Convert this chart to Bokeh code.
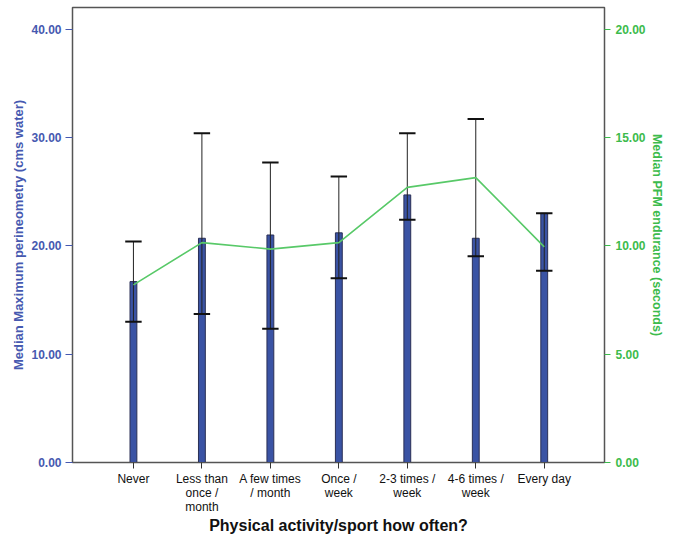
from bokeh.plotting import figure
from bokeh.models import Range1d, LinearAxis, FixedTicker, ColumnDataSource
from bokeh.embed import file_html
from bokeh.resources import INLINE

categories = ["Never", "Less than\nonce /\nmonth", "A few times\n/ month", "Once /\nweek",
              "2-3 times /\nweek", "4-6 times /\nweek", "Every day"]
perineometry = [16.7, 20.7, 21.0, 21.2, 24.7, 20.7, 23.0]
err_low = [13.0, 13.7, 12.35, 17.0, 22.4, 19.05, 17.7]
err_high = [20.4, 30.4, 27.7, 26.4, 30.4, 31.7, 23.0]
endurance = [8.2, 10.15, 9.85, 10.15, 12.7, 13.15, 9.95]
left_ticks = [0, 10, 20, 30, 40]
right_ticks = [0, 5, 10, 15, 20]

xs = list(range(len(categories)))
cap = 0.12
src = ColumnDataSource(dict(
    x=xs, top=perineometry, lo=err_low, hi=err_high,
    x0=[x - cap for x in xs], x1=[x + cap for x in xs],
))
src2 = ColumnDataSource(dict(x=xs, y=endurance))

BLUE = "#4659b0"
GREEN = "#3cbb4c"
FONT = "Liberation Sans"

p = figure(frame_width=532, frame_height=455, output_backend="svg", toolbar_location=None,
           x_range=Range1d(-0.89, 6.88), y_range=Range1d(0, 42.0),
           min_border_left=72, min_border_right=52, min_border_top=7, min_border_bottom=55)
p.extra_y_ranges = {"right": Range1d(0, 21.0)}
p.xgrid.visible = False
p.ygrid.visible = False
p.outline_line_color = "#555555"
p.outline_line_width = 1.5
p.background_fill_color = "white"
p.border_fill_color = "white"

p.vbar(x="x", top="top", bottom=0, width=0.1, source=src,
       fill_color="#3a53a4", line_color="#2a2f55", line_width=1)
p.segment(x0="x", x1="x", y0="lo", y1="hi", source=src, line_color="#222222", line_width=1)
p.segment(x0="x0", x1="x1", y0="hi", y1="hi", source=src, line_color="#111111", line_width=2)
p.segment(x0="x0", x1="x1", y0="lo", y1="lo", source=src, line_color="#111111", line_width=2)
p.line(x="x", y="y", source=src2, y_range_name="right", line_color="#58c968", line_width=1.6)

# x axis
xa = p.xaxis[0]
xa.ticker = FixedTicker(ticks=xs)
xa.major_label_overrides = {i: c for i, c in enumerate(categories)}
xa.major_label_text_font = FONT
xa.major_label_text_font_size = "12px"
xa.major_label_text_line_height = 1.0
xa.major_label_standoff = 3
xa.major_label_text_color = "#111111"
xa.major_tick_out = 6
xa.major_tick_in = 0
xa.minor_tick_line_color = None
xa.axis_line_color = "#555555"
xa.major_tick_line_color = "#333333"
xa.axis_label = "Physical activity/sport how often?"
xa.axis_label_text_font = FONT
xa.axis_label_text_font_style = "bold"
xa.axis_label_text_font_size = "16px"
xa.axis_label_text_color = "#111111"
xa.axis_label_standoff = 0

# left axis
ya = p.yaxis[0]
ya.ticker = FixedTicker(ticks=left_ticks)
ya.major_label_overrides = {t: f"{t:.2f}" for t in left_ticks}
ya.major_label_text_font = FONT
ya.major_label_text_font_style = "bold"
ya.major_label_text_font_size = "12px"
ya.major_label_text_color = BLUE
ya.major_label_standoff = 4
ya.major_tick_line_color = BLUE
ya.major_tick_out = 7
ya.major_tick_in = 0
ya.minor_tick_line_color = None
ya.axis_line_color = "#555555"
ya.axis_label = "Median Maximum perineometry (cms water)"
ya.axis_label_text_font = FONT
ya.axis_label_text_font_style = "bold"
ya.axis_label_text_font_size = "13px"
ya.axis_label_text_color = BLUE
ya.axis_label_standoff = 2

ra = LinearAxis(y_range_name="right", ticker=FixedTicker(ticks=right_ticks))
ra.major_label_overrides = {t: f"{t:.2f}" for t in right_ticks}
ra.major_label_text_font = FONT
ra.major_label_text_font_style = "bold"
ra.major_label_text_font_size = "12px"
ra.major_label_text_color = GREEN
ra.major_label_standoff = 5
ra.major_tick_line_color = GREEN
ra.major_tick_out = 6
ra.major_tick_in = 0
ra.minor_tick_line_color = None
ra.axis_line_color = "#555555"
ra.axis_label = "Median PFM endurance (seconds)"
ra.axis_label_text_font = FONT
ra.axis_label_text_font_style = "bold"
ra.axis_label_text_font_size = "12.5px"
ra.axis_label_text_color = GREEN
ra.axis_label_standoff = 1
p.add_layout(ra, "right")

open("out.html", "w").write(file_html(p, INLINE))
